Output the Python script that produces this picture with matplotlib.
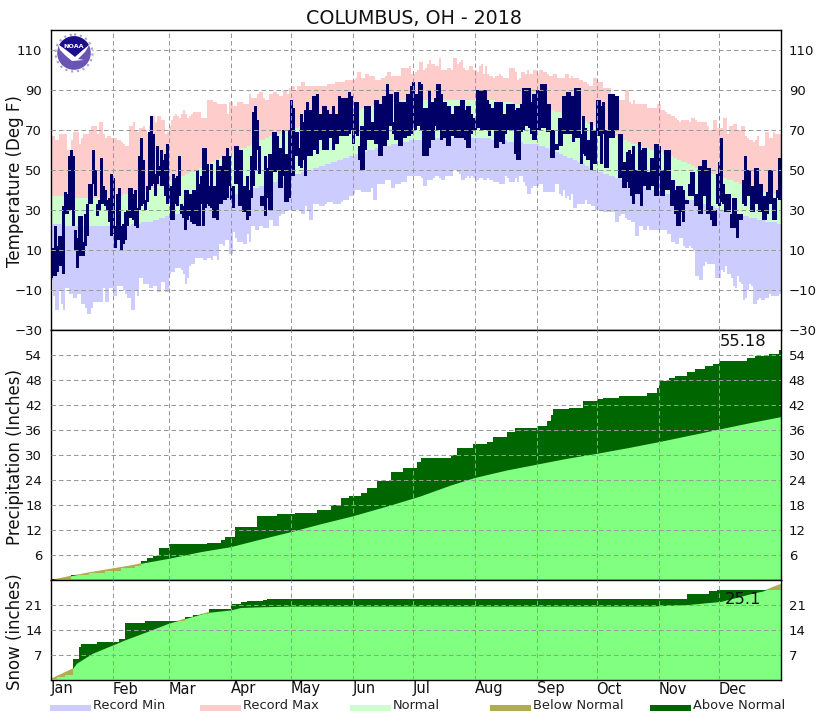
import matplotlib
matplotlib.use("Agg")
import matplotlib.pyplot as plt
from matplotlib.patches import Circle, Polygon, Rectangle
from matplotlib.path import Path
import numpy as np

months = ["Jan", "Feb", "Mar", "Apr", "May", "Jun", "Jul", "Aug", "Sep", "Oct", "Nov", "Dec"]
month_starts = [0, 31, 59, 90, 120, 151, 181, 212, 243, 273, 304, 334]

# daily temperature values, one row per month
record_max = [
    67,67,65,65,68,68,68,68,60,60,65,69,69,69,63,66,68,68,68,70,72,72,72,68,74,74,68,66,67,67,66,
    66,66,65,65,64,63,62,62,72,72,74,70,69,71,71,72,70,68,72,77,77,74,77,77,75,75,68,69,
    72,75,77,78,77,76,78,80,78,76,77,78,79,79,79,79,76,76,76,85,85,85,84,84,83,83,83,83,83,78,84,
    84,82,82,84,84,84,83,83,83,88,86,86,86,88,89,89,86,85,85,88,88,89,89,88,87,87,90,90,88,91,
    92,92,90,92,92,94,94,92,92,92,92,92,92,92,92,92,92,92,93,93,93,93,94,94,94,94,94,95,95,95,95,
    95,96,99,99,96,96,98,98,97,97,97,95,95,95,96,96,97,99,99,97,97,97,97,97,101,101,101,101,102,98,
    98,99,100,104,104,100,101,103,105,103,103,102,102,106,100,100,100,101,101,100,106,106,103,104,105,101,100,100,102,102,100,
    100,99,102,103,98,102,98,97,97,96,97,97,98,97,96,96,96,101,101,101,99,95,96,99,99,98,100,98,98,100,100,
    98,100,100,99,99,98,97,97,98,98,96,96,96,96,98,98,96,97,96,96,96,95,95,94,94,93,92,92,96,96,
    94,94,94,91,91,91,91,88,87,86,85,85,85,85,90,90,84,83,85,83,83,83,83,83,83,81,81,81,81,81,83,
    83,80,80,79,78,78,77,77,76,75,74,75,75,75,75,74,76,76,75,74,74,74,74,74,72,70,70,75,75,71,
    71,71,76,76,68,72,72,73,73,70,70,72,72,67,66,65,65,64,65,67,62,62,62,69,69,66,66,69,68,68,68,
]
record_min = [
    -5,-13,-20,-20,-10,-17,-20,-9,-9,-12,-12,-14,-14,-12,-12,-17,-17,-19,-22,-22,-19,-16,-16,-16,-16,-16,-9,-16,-16,-9,-9,
    -13,-13,-8,-8,-8,-10,-12,-14,-14,-20,-20,-10,-13,-4,-4,-7,-7,-7,-9,-9,-8,-8,-11,-11,-6,-6,-11,-11,
    -2,-1,-1,1,1,1,0,-2,-7,-4,2,3,3,6,6,6,6,5,5,6,6,5,7,7,5,13,13,12,15,15,8,
    8,19,16,14,14,14,13,13,18,14,22,22,20,20,22,22,21,21,21,25,25,22,22,22,27,28,28,30,30,30,
    30,30,30,30,30,28,28,32,30,25,25,33,33,33,32,32,32,33,34,34,34,33,33,33,33,34,35,35,35,37,37,
    38,40,40,40,39,39,39,39,39,41,35,35,43,43,43,43,45,45,45,41,41,43,43,43,44,44,44,47,47,47,
    47,47,47,47,46,42,42,45,45,45,46,47,47,46,45,45,47,47,47,47,50,50,49,48,45,45,46,47,46,47,46,
    44,45,46,46,45,45,46,45,45,44,44,44,43,43,43,47,46,44,44,44,46,44,47,47,44,42,38,38,41,42,42,
    42,43,43,39,39,39,39,39,39,43,43,38,37,40,36,37,35,38,31,31,33,33,33,33,35,33,33,32,32,30,
    30,30,30,29,29,29,29,29,29,24,24,27,28,28,26,25,25,24,24,17,17,22,22,20,20,22,20,20,20,20,20,
    20,20,20,20,18,18,14,14,13,13,16,16,12,11,11,12,11,10,-3,-3,-5,-5,2,4,3,3,3,3,-4,-4,
    -4,0,-1,2,-2,-2,-4,-8,-9,-3,-6,-7,-15,-14,-10,-7,-8,-17,-17,-15,-14,-15,-15,-14,-14,-12,-13,-13,-13,-13,-12,
]
normal_high = [
    37,37,37,37,37,37,37,37,37,36,36,36,36,36,36,36,36,36,36,36,36,36,36,36,36,36,36,36,36,36,36,
    37,37,37,37,37,38,38,38,38,38,38,39,39,39,39,40,40,40,40,41,41,42,42,42,43,43,43,44,
    44,45,45,46,46,47,47,47,48,48,49,49,49,50,50,51,51,52,52,53,53,54,54,55,55,56,56,57,57,58,58,
    58,59,59,60,60,61,61,61,62,62,63,63,64,64,65,65,65,66,66,67,67,67,68,68,68,69,69,70,70,70,
    70,71,71,71,72,72,72,73,73,73,74,74,74,75,75,75,76,76,76,77,77,77,78,78,78,78,79,79,79,79,80,
    80,80,80,80,81,81,81,81,82,82,82,82,82,83,83,83,83,83,84,84,84,84,84,84,85,85,85,85,85,85,
    85,85,85,85,85,85,85,85,85,85,85,85,85,85,85,85,85,85,85,85,85,85,85,85,85,85,85,85,85,85,85,
    85,85,85,85,85,85,85,85,85,85,84,84,84,84,84,84,84,84,84,83,83,83,83,83,83,83,83,82,82,82,82,
    82,82,81,81,81,81,80,80,80,79,79,79,78,78,78,77,77,77,76,76,75,75,75,74,74,73,73,72,72,71,
    70,70,70,69,69,68,68,67,67,67,66,66,65,65,65,64,64,63,63,63,62,62,62,61,61,61,60,60,60,59,59,
    59,59,58,58,57,57,57,56,56,55,55,54,54,54,53,53,52,52,51,51,51,50,50,49,49,49,48,48,47,47,
    47,46,46,46,45,45,45,44,44,44,43,43,43,42,42,42,41,41,41,40,40,40,39,39,39,38,38,38,38,37,37,
]
normal_low = [
    23,23,23,23,23,23,22,22,22,22,22,22,22,22,22,22,22,22,22,22,22,22,22,22,22,22,22,22,22,22,22,
    22,22,22,22,22,22,22,22,22,23,23,23,23,23,24,24,24,24,24,24,25,25,25,26,26,26,27,27,
    27,27,28,28,28,28,29,29,29,30,30,30,31,31,31,32,32,32,33,33,33,34,34,34,35,35,35,36,36,36,37,
    37,37,38,38,38,39,39,39,40,40,40,41,41,41,42,42,42,43,43,43,44,44,44,45,45,45,46,46,46,47,
    47,47,48,48,48,49,49,49,50,50,50,51,51,51,52,52,52,53,53,53,54,54,54,55,55,55,56,56,56,57,57,
    57,58,58,58,59,59,59,60,60,60,60,61,61,61,61,62,62,62,62,63,63,63,63,64,64,64,64,64,65,65,
    65,65,65,65,65,65,65,65,65,65,66,66,66,66,66,66,66,66,66,66,66,66,66,66,66,66,66,66,66,66,66,
    66,66,66,66,66,66,66,66,65,65,65,65,65,65,65,65,64,64,64,64,64,64,64,64,63,63,63,63,63,63,63,
    63,62,62,62,61,61,60,60,60,59,59,58,58,57,57,56,56,56,55,55,54,54,53,53,52,52,51,51,50,50,
    49,49,49,48,48,48,47,47,47,46,46,46,45,45,45,44,44,44,43,43,43,42,42,42,41,41,41,40,40,40,40,
    39,39,39,38,38,38,38,37,37,37,36,36,36,36,35,35,35,35,34,34,34,33,33,33,33,32,32,32,31,31,
    30,30,30,29,29,29,29,28,28,28,28,27,27,27,27,26,26,26,26,25,25,25,25,24,24,24,24,24,24,23,23,
]
obs_high = [
    11,11,22,12,17,17,32,39,38,57,60,57,20,16,27,27,14,28,33,43,43,60,50,33,35,56,42,40,35,36,48,
    46,22,38,41,22,23,29,30,41,41,38,40,31,57,66,55,35,42,69,77,68,48,62,52,60,55,58,63,
    42,42,48,46,47,57,33,32,40,40,38,38,40,40,50,43,47,61,61,53,42,53,42,42,55,52,52,57,57,61,57,
    42,42,62,62,60,60,42,42,47,40,57,79,82,75,62,37,37,57,51,58,58,69,69,67,61,61,70,58,58,70,
    85,81,69,69,61,78,74,80,84,80,80,87,87,88,78,78,82,82,80,78,78,82,78,78,87,86,86,86,86,89,87,
    78,84,84,62,72,72,82,82,82,74,74,85,85,83,83,87,87,93,88,88,74,89,89,84,84,84,84,88,88,92,
    94,88,88,94,93,81,81,81,90,84,84,86,93,93,88,84,84,82,82,78,78,82,82,82,85,85,80,82,82,78,76,
    76,90,90,90,90,90,85,83,81,81,84,84,84,84,78,78,83,83,83,83,80,81,81,83,91,91,91,91,84,88,88,
    90,90,93,93,93,83,83,70,70,63,63,76,76,87,87,89,89,87,87,91,91,91,68,77,71,65,65,74,70,70,
    85,85,82,84,70,70,88,88,88,87,87,68,68,54,54,59,60,58,62,50,50,64,60,61,61,49,49,56,56,63,63,
    62,50,50,60,60,60,45,45,40,42,42,42,40,35,35,43,49,49,38,38,52,52,55,55,51,51,32,30,30,48,
    54,66,43,38,38,38,28,36,36,28,28,28,45,57,50,50,42,42,51,51,43,43,37,37,39,50,50,36,36,40,56,
]
obs_low = [
    -4,-3,-3,-1,2,2,-2,28,28,30,30,22,10,1,7,7,7,12,17,33,33,43,37,27,30,33,33,32,30,24,17,
    18,11,15,15,10,13,15,22,26,26,25,22,21,30,32,33,30,34,40,42,43,37,43,47,42,42,37,33,
    35,25,25,33,32,37,28,26,20,25,27,24,23,23,22,22,33,22,31,33,32,31,26,26,25,33,33,35,35,36,42,
    35,31,43,43,32,32,29,29,25,27,36,42,50,60,48,32,32,27,36,30,30,49,49,50,41,41,47,34,34,36,
    47,47,57,57,52,51,55,47,57,57,57,60,60,58,65,65,60,60,60,66,66,60,63,63,67,67,67,67,67,68,70,
    63,68,67,55,50,50,60,65,65,65,65,63,63,57,57,62,62,65,72,72,68,65,65,62,62,66,66,67,67,68,
    72,70,72,72,70,57,57,57,61,65,65,72,70,70,65,66,66,62,62,67,67,66,66,66,66,66,65,61,61,68,70,
    70,71,71,70,70,70,70,67,70,70,61,61,64,64,63,68,70,70,70,70,58,55,55,69,70,72,72,71,68,65,65,
    70,70,71,71,71,69,69,56,56,60,60,62,62,68,68,68,68,68,64,66,66,66,53,58,57,55,55,50,53,53,
    67,67,53,68,51,51,66,66,66,70,70,46,46,41,41,44,41,37,33,38,38,38,32,42,42,40,40,42,42,37,37,
    46,37,37,40,40,40,32,32,28,22,22,29,24,33,33,37,37,37,32,32,28,28,37,37,28,28,25,22,22,33,
    32,34,33,29,29,29,21,21,21,16,25,25,33,32,37,37,29,29,33,33,29,29,25,25,28,33,33,25,25,36,35,
]

# accumulated precipitation: day of each change and total after it
precip_days = [0,10,19,27,35,42,45,48,51,54,59,78,85,87,92,103,113,122,133,140,145,149,155,158,163,170,176,183,
               185,195,200,203,211,218,221,228,232,237,243,248,250,251,259,266,273,276,284,298,303,304,309,312,318,322,327,331,334,348,352,359,364]
precip_total = [0.3,1.2,1.6,2.2,2.9,3.3,4.6,5.2,5.8,7.6,8.6,8.8,9.6,10.4,12.8,15.4,15.8,16.2,16.8,18,19.6,20.2,20.8,22,23.8,26,27,28.4,
                29.2,29.4,30,31.8,32.6,33.1,34.4,35.6,36.4,36.6,37,38.2,39.6,41,41.4,43,43.4,43.8,44.2,45,46,47.8,48.4,49,49.9,50.6,51.4,51.8,52.6,53.4,53.7,54.2,55.18]
precip_norm_days = [0,10,20,30,40,45,59,75,90,103,120,135,151,170,185,200,212,228,243,258,273,289,304,319,334,350,365]
precip_norm = [0,1.0,1.9,2.7,3.5,4.0,5.2,6.8,8.0,9.6,11.6,13.5,15.4,18,20.2,22.8,24.6,26.4,27.8,29.2,30.4,31.8,33.2,34.7,36.2,37.8,39.2]

snow_days = [0,3,7,11,14,15,23,28,34,37,47,67,71,75,79,90,95,98,106,108,318,329,333]
snow_total = [0.2,0.7,1.4,6,9.3,10,10.5,10.6,11.5,15.9,16.5,17.5,18.2,18.4,19.9,21.3,21.9,22.1,22.4,22.7,24.1,24.9,25.1]
snow_norm_days = [0,11,13,21,31,37,48,59,68,78,90,95,105,120,150,300,318,335,351,356,365]
snow_norm = [0.3,3.2,4.7,7.5,9.8,11.2,13.5,15.9,17.3,18.9,19.6,20.3,20.5,20.7,20.7,20.7,21.1,22,24.3,24.9,26.9]

legend_labels = ["Record Min", "Record Max", "Normal", "Below Normal", "Above Normal"]
legend_x = [50, 200, 350, 490, 650]

C_MIN = "#ccccff"
C_MAX = "#ffcccc"
C_NORM = "#ccffcc"
C_OBS = "#000066"
C_BELOW = "#b0ad50"
C_ABOVE = "#006600"
C_FILL = "#80ff80"
C_GRID = "#999999"

W, H = 830, 720
LEFT, RIGHT = 50.5, 780.5
TICK_SIZE = 9.5


def make_panel(fig, top, bottom, ymin, ymax, yticks, ylabel, label_y):
    ax = fig.add_axes([LEFT / W, 1 - bottom / H, (RIGHT - LEFT) / W, (bottom - top) / H])
    ax.set_xlim(0, 365)
    ax.set_ylim(ymin, ymax)
    ax.set_xticks(month_starts[1:])
    ax.set_xticklabels([])
    ax.set_yticks(yticks)
    ax.tick_params(axis="both", length=0, labelsize=TICK_SIZE, pad=6, colors="#111111",
                   labelright=True, right=True)
    ax.grid(True, color=C_GRID, linestyle=(0, (4.5, 3)), linewidth=0.72)
    ax.set_axisbelow(False)
    for spine in ax.spines.values():
        spine.set_linewidth(1.0)
    fig.text(15 / W, 1 - label_y / H, ylabel, rotation=90, ha="center", va="center",
             fontsize=12, color="#111111")
    return ax


def draw_accum(ax, days, total, norm_days, norm, ymax):
    x = np.append(days, 365)
    y = np.append(total, total[-1])
    ax.fill_between(x, 0, y, step="post", color=C_ABOVE, linewidth=0)
    ax.fill_between(norm_days, 0, norm, color=C_FILL, linewidth=0)
    # below normal is only the part of the normal area that sits above the total
    below = ax.fill_between(x, y, ymax, step="post", color=C_BELOW, linewidth=0)
    verts = list(zip(norm_days, norm)) + [(365, 0), (0, 0)]
    below.set_clip_path(Path(verts + [verts[0]]), ax.transData)


fig = plt.figure(figsize=(W / 100, H / 100), dpi=100, facecolor="white")

# temperature
ax1 = make_panel(fig, 30, 330, -30, 120, list(range(-30, 111, 20)), "Temperature (Deg F)", 181)
days = np.arange(365)
rmin, rmax = np.array(record_min), np.array(record_max)
nlow, nhigh = np.array(normal_low), np.array(normal_high)
olow, ohigh = np.array(obs_low), np.array(obs_high)
ax1.bar(days, nlow - rmin, bottom=rmin, width=1, align="edge", color=C_MIN, linewidth=0, antialiased=False)
ax1.bar(days, nhigh - nlow, bottom=nlow, width=1, align="edge", color=C_NORM, linewidth=0, antialiased=False)
ax1.bar(days, rmax - nhigh, bottom=nhigh, width=1, align="edge", color=C_MAX, linewidth=0, antialiased=False)
ax1.bar(days + 0.5, ohigh - olow, bottom=olow, width=1.5, color=C_OBS, linewidth=0, antialiased=False)

# precipitation
ax2 = make_panel(fig, 330, 580, 0, 60, list(range(6, 55, 6)), "Precipitation (Inches)", 457)
draw_accum(ax2, precip_days, precip_total, precip_norm_days, precip_norm, 60)

# snow
ax3 = make_panel(fig, 580, 680, 0, 28, [7, 14, 21], "Snow (inches)", 632)
draw_accum(ax3, snow_days, snow_total, snow_norm_days, snow_norm, 28)

# overlay in pixel coordinates for the logo, legend and loose text
ov = fig.add_axes([0, 0, 1, 1], facecolor="none")
ov.set_xlim(0, W)
ov.set_ylim(H, 0)
ov.axis("off")

ov.text(414, 18, "COLUMBUS, OH - 2018", ha="center", va="center", fontsize=13.7, color="#111111")
ov.text(743, 342, f"{precip_total[-1]:.2f}", ha="center", va="center", fontsize=11.8, color="#111111")
ov.text(743, 600, f"{snow_total[-1]:.1f}", ha="center", va="center", fontsize=11.8, color="#111111")

for x, name in zip(month_starts, months):
    ov.text(LEFT + x * 2, 689, name, ha="left", va="center", fontsize=10.5, color="#111111")

for x, name, col in zip(legend_x, legend_labels, [C_MIN, C_MAX, C_NORM, C_BELOW, C_ABOVE]):
    ov.add_patch(Rectangle((x, 705), 41, 6, facecolor=col, linewidth=0))
    ov.text(x + 43, 705.5, name, ha="left", va="center", fontsize=9.4, color="#222222")

# NOAA logo
cx, cy = 74, 53
ov.add_patch(Circle((cx, cy), 18.5, facecolor="white", edgecolor="#a9a9c9", linewidth=1.6, linestyle=":"))
disc = Circle((cx, cy), 16.8, facecolor="#6a55b5", linewidth=0)
ov.add_patch(disc)
top = Polygon([(56, 34), (92, 34), (92, 45), (83, 50), (75, 57), (66, 50), (56, 45)],
              facecolor="#1c0c8e", linewidth=0)
ov.add_patch(top)
top.set_clip_path(disc)
wave = Polygon([(58, 44), (66, 50), (75, 57), (83, 50), (90, 44), (85, 52), (78, 59), (84, 60),
                (72, 61), (66, 56), (60, 50)], facecolor="white", linewidth=0)
ov.add_patch(wave)
wave.set_clip_path(disc)
ov.text(cx, 46, "NOAA", ha="center", va="center", fontsize=4.6, fontweight="bold", color="white")

fig.savefig("out.png", dpi=100)
